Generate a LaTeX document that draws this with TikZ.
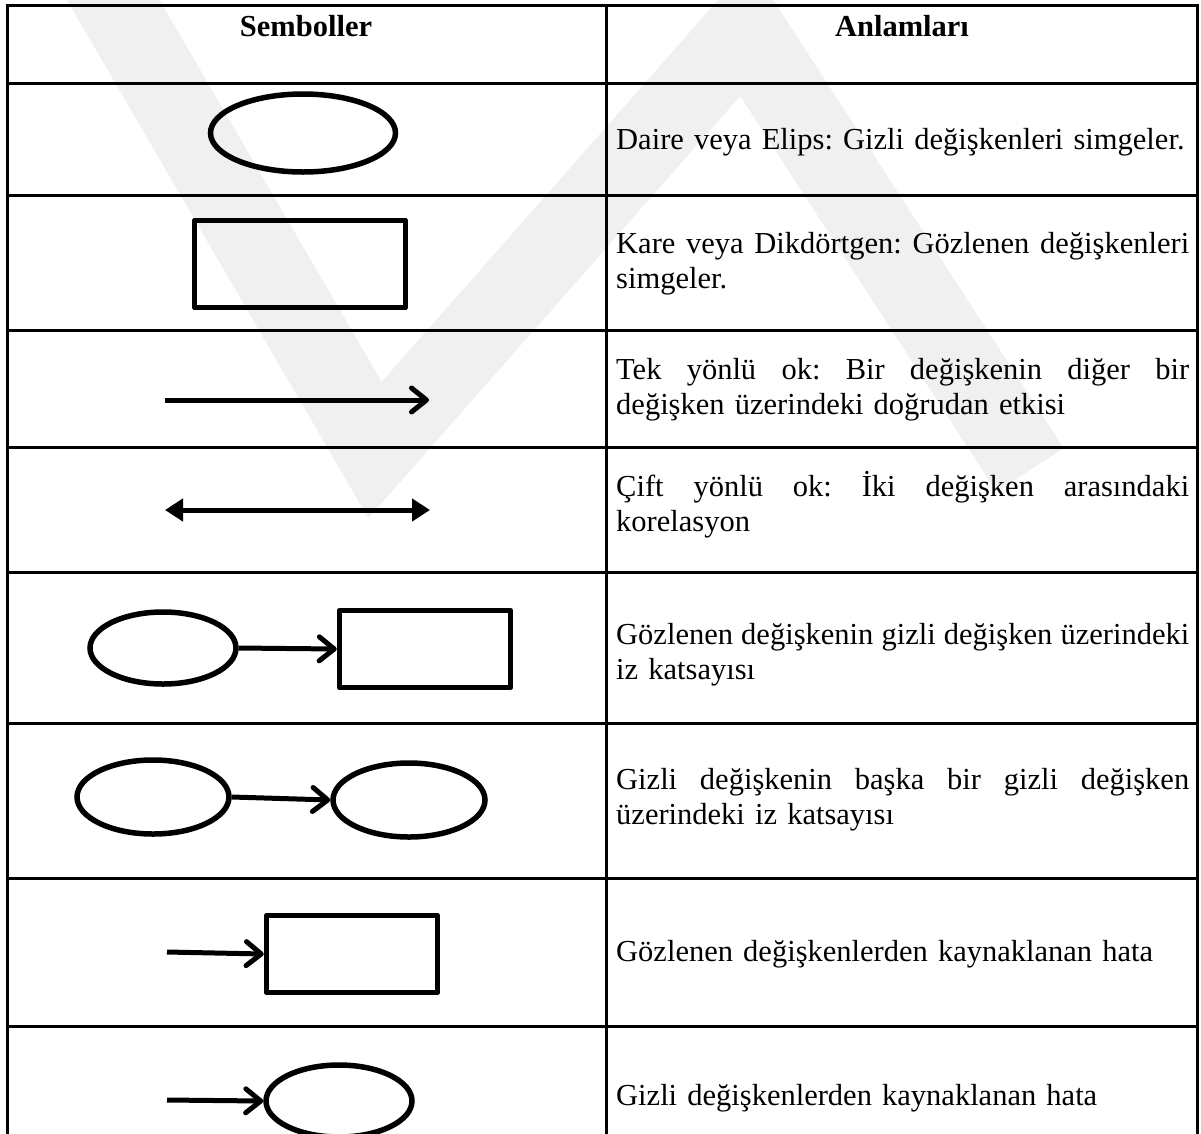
\documentclass[tikz,border=0pt]{standalone}
\usepackage{fontspec}
\setmainfont{Liberation Serif}
\usetikzlibrary{arrows.meta,shapes.geometric}
% a line stretched to the full column width (justified)
\newcommand{\jline}[1]{{\spaceskip=0pt\xspaceskip=0pt\makebox[573pt][s]{#1}}}
\frenchspacing
\begin{document}
\begin{tikzpicture}[x=1pt,y=-1pt,
  rule/.style={line width=3pt, line cap=rect},
  mark band/.style={line width=80pt, draw=black!6, line join=miter},
  oval/.style={draw, ellipse, line width=5.5pt, inner sep=0pt},
  box/.style={draw, rectangle, line width=5.5pt, inner sep=0pt, line join=round},
  arr/.style={line width=5pt, -{Straight Barb[length=15pt,width=24pt,line cap=round,line join=round]}},
  darr/.style={line width=5pt, {Triangle[length=18pt,width=22pt]}-{Triangle[length=18pt,width=22pt]}},
  desc/.style={anchor=west, inner sep=0pt, text width=573pt, align=left,
    font=\fontsize{30.5}{35}\selectfont\frenchspacing},
  head/.style={anchor=base, inner sep=0pt, font=\fontsize{30.5}{35}\selectfont\bfseries}]
\useasboundingbox (0,0) rectangle (1201,1133);
\fill[white] (0,0) rectangle (1201,1133);

% faint background emblem
\draw[mark band] (90,-40) -- (375,450) -- (745,30) -- (1030,470);

% table rules
\foreach \y in {5,83,195,330,447,572,723,878,1026}
  \draw[rule] (7,\y) -- (1197,\y);
\foreach \x in {7,606,1197}
  \draw[rule] (\x,5) -- (\x,1140);

% header
\node[head] (h1) at (306,36) {Semboller};
\node[head] (h2) at (902,36) {Anlamları};

% row 1: ellipse
\node[oval, minimum width=185pt, minimum height=78pt] (e1) at (303,133) {};
\node[desc] (t1) at (616,142) {Daire veya Elips: Gizli değişkenleri simgeler.};

% row 2: rectangle
\node[box, minimum width=211pt, minimum height=87pt] (r2) at (300,264) {};
\node[desc] (t2) at (616,264) {\jline{Kare veya Dikdörtgen: Gözlenen değişkenleri}\\simgeler.};

% row 3: one-way arrow
\coordinate (a3s) at (165,400);
\coordinate (a3e) at (429,400);
\draw[arr] (a3s) -- (a3e);
\node[desc] (t3) at (616,390) {\jline{Tek yönlü ok: Bir değişkenin diğer bir}\\değişken üzerindeki doğrudan etkisi};

% row 4: two-way arrow
\coordinate (a4s) at (165,510);
\coordinate (a4e) at (430,510);
\draw[darr] (a4s) -- (a4e);
\node[desc] (t4) at (616,505) {\jline{Çift yönlü ok: İki değişken arasındaki}\\korelasyon};

% row 5: ellipse -> rectangle
\node[oval, minimum width=146pt, minimum height=72pt] (e5) at (163,648) {};
\node[box, minimum width=171pt, minimum height=77pt] (r5) at (425,649) {};
\draw[arr] (e5.east) -- (r5.west);
\node[desc] (t5) at (616,655) {\jline{Gözlenen değişkenin gizli değişken üzerindeki}\\iz katsayısı};

% row 6: ellipse -> ellipse
\node[oval, minimum width=152pt, minimum height=74pt] (e6a) at (153,797) {};
\node[oval, minimum width=152pt, minimum height=74pt] (e6b) at (409,800) {};
\draw[arr] (e6a.east) -- (e6b.west);
\node[desc] (t6) at (616,800) {\jline{Gizli değişkenin başka bir gizli değişken}\\üzerindeki iz katsayısı};

% row 7: error on observed variable
\node[box, minimum width=171pt, minimum height=77pt] (r7) at (352,954) {};
\coordinate (s7) at (167,952);
\draw[arr] (s7) -- (r7.west);
\node[desc] (t7) at (616,954) {Gözlenen değişkenlerden kaynaklanan hata};

% row 8: error on latent variable
\node[oval, minimum width=146pt, minimum height=72pt] (e8) at (339,1101) {};
\coordinate (s8) at (167,1100);
\draw[arr] (s8) -- (e8.west);
\node[desc] (t8) at (616,1098) {Gizli değişkenlerden kaynaklanan hata};
\end{tikzpicture}
\end{document}
